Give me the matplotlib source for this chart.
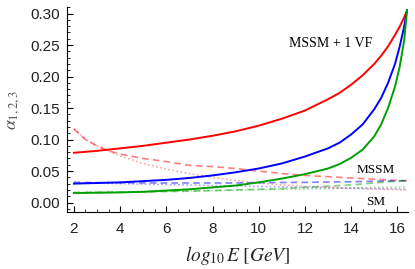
import matplotlib
matplotlib.use("Agg")
import matplotlib.pyplot as plt
from matplotlib.ticker import MultipleLocator

plt.rcParams['mathtext.fontset'] = 'stix'

# MSSM + 1 VF (solid)
x_vf = [2, 3, 4, 5, 6, 7, 8, 9, 10, 11, 12, 13, 13.5, 14, 14.5, 15, 15.3, 15.6, 15.9, 16.1, 16.3, 16.42]
a3_vf = [0.079, 0.082, 0.086, 0.090, 0.095, 0.100, 0.106, 0.113, 0.122, 0.133, 0.146, 0.164,
         0.174, 0.187, 0.202, 0.220, 0.233, 0.248, 0.266, 0.279, 0.294, 0.305]
a2_vf = [0.030, 0.031, 0.032, 0.034, 0.036, 0.039, 0.043, 0.048, 0.054, 0.062, 0.073, 0.086,
         0.095, 0.108, 0.124, 0.148, 0.166, 0.190, 0.220, 0.247, 0.280, 0.305]
a1_vf = [0.015, 0.0155, 0.016, 0.017, 0.019, 0.021, 0.024, 0.027, 0.032, 0.038, 0.045, 0.054,
         0.061, 0.071, 0.084, 0.105, 0.124, 0.150, 0.184, 0.215, 0.258, 0.305]

# MSSM (dashed) and SM (dotted)
x_run = [2, 2.5, 3, 3.5, 4, 5, 6, 7, 8, 9, 10, 11, 12, 13, 14, 15, 16, 16.42]
a3_mssm = [0.117, 0.100, 0.090, 0.082, 0.077, 0.070, 0.065, 0.059, 0.057, 0.054, 0.050, 0.046,
           0.043, 0.041, 0.039, 0.037, 0.035, 0.0346]
a2_mssm = [0.032, 0.0318, 0.0316, 0.0315, 0.0315, 0.0312, 0.031, 0.031, 0.031, 0.031, 0.0315,
           0.0318, 0.032, 0.0325, 0.033, 0.0337, 0.0345, 0.0346]
a1_mssm = [0.016, 0.016, 0.0162, 0.0163, 0.0165, 0.017, 0.0175, 0.018, 0.019, 0.020, 0.021,
           0.022, 0.024, 0.026, 0.028, 0.031, 0.034, 0.0346]
a3_sm = [0.117, 0.100, 0.090, 0.082, 0.074, 0.062, 0.053, 0.046, 0.040, 0.035, 0.031, 0.028,
         0.026, 0.024, 0.0225, 0.0215, 0.0205, 0.020]
a2_sm = [0.032, 0.0315, 0.031, 0.0305, 0.030, 0.029, 0.0285, 0.0278, 0.027, 0.0262, 0.0255,
         0.0248, 0.024, 0.0235, 0.023, 0.022, 0.0215, 0.021]
a1_sm = [0.016, 0.0162, 0.0165, 0.0167, 0.017, 0.0175, 0.018, 0.0185, 0.019, 0.0195, 0.020,
         0.021, 0.0215, 0.022, 0.023, 0.024, 0.0245, 0.025]

red, blue, green = '#ff0000', '#0000ff', '#00a000'

fig = plt.figure(figsize=(4.15, 2.69), dpi=100)
ax = fig.add_axes([0.1614, 0.212, 0.821, 0.761])

# light curves first
for y, c in [(a3_sm, red), (a2_sm, blue), (a1_sm, green)]:
    ax.plot(x_run, y, color=c, lw=1.2, ls=(0, (1, 1.5)), alpha=0.35)
for y, c in [(a3_mssm, red), (a2_mssm, blue), (a1_mssm, green)]:
    ax.plot(x_run, y, color=c, lw=1.2, ls=(0, (4, 2.5)), alpha=0.5)
for y, c in [(a3_vf, red), (a2_vf, blue), (a1_vf, green)]:
    ax.plot(x_vf, y, color=c, lw=1.4)

ax.set_xlim(1.7, 16.45)
ax.set_ylim(-0.015, 0.31)
ax.xaxis.set_major_locator(MultipleLocator(2))
ax.xaxis.set_minor_locator(MultipleLocator(0.5))
ax.yaxis.set_major_locator(MultipleLocator(0.05))
ax.yaxis.set_minor_locator(MultipleLocator(0.01))
ax.yaxis.set_major_formatter(matplotlib.ticker.FormatStrFormatter('%.2f'))
for s in ['top', 'right']:
    ax.spines[s].set_visible(False)
for s in ['left', 'bottom']:
    ax.spines[s].set_linewidth(0.8)
ax.tick_params(which='major', direction='in', length=4, width=0.8,
               labelsize=11, labelcolor='#222222', pad=5)
ax.tick_params(axis='x', which='major', pad=7)
ax.tick_params(which='minor', direction='in', length=2, width=0.6)
for lab in ax.get_xticklabels() + ax.get_yticklabels():
    lab.set_fontfamily('Liberation Sans')

ax.set_ylabel(r'$\alpha_{1,2,3}$', fontsize=13, color='#555555', labelpad=6)
ax.set_xlabel(r'$log_{10}\,E\;[GeV]$', fontsize=14, color='#222222', labelpad=6)

ax.text(13.1, 0.253, 'MSSM + 1 VF', fontsize=10, family='Liberation Serif',
        ha='center', va='center')
ax.text(15.08, 0.052, 'MSSM', fontsize=9.5, family='Liberation Serif',
        ha='center', va='center')
ax.text(15.08, 0.001, 'SM', fontsize=9.5, family='Liberation Serif',
        ha='center', va='center')

fig.savefig('out.png', dpi=100)
